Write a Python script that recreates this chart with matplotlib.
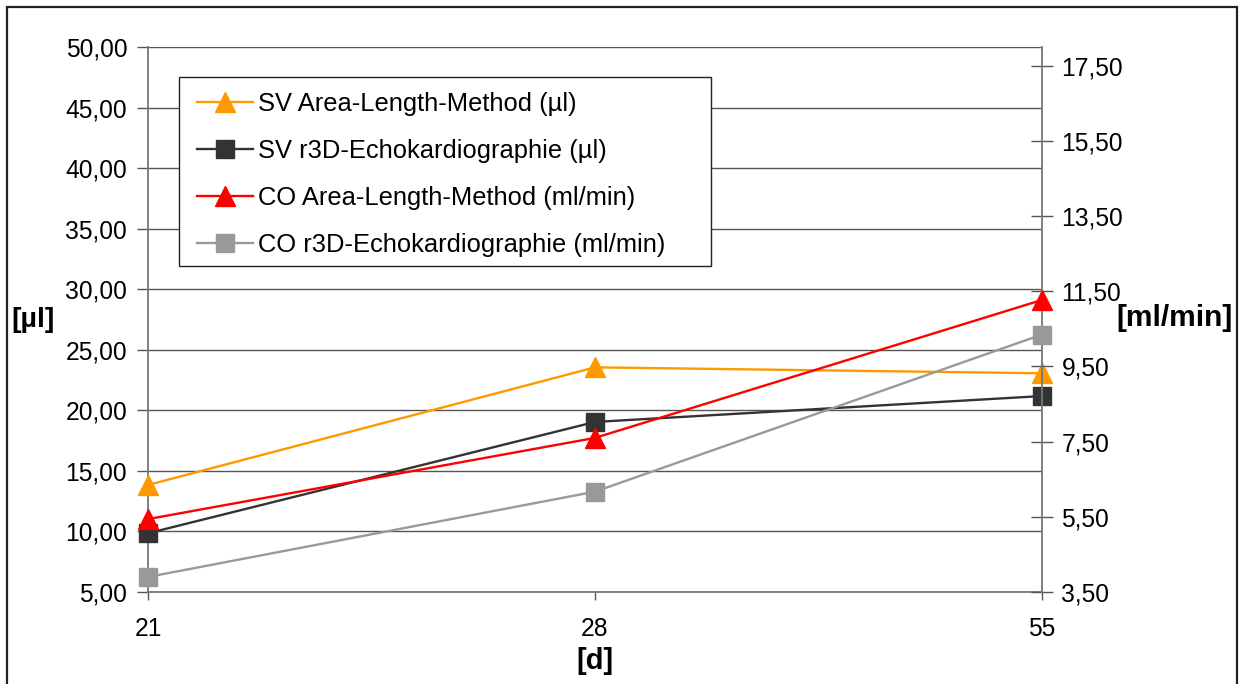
import matplotlib
matplotlib.use("Agg")
import matplotlib.pyplot as plt
from matplotlib.ticker import FuncFormatter, FixedLocator
from matplotlib.patches import Rectangle

plt.rcParams['font.family'] = ['Liberation Sans', 'DejaVu Sans']

# ---- data ----
days = ["21", "28", "55"]
sv_alm = [13.84, 23.55, 23.06]      # µl, left axis
sv_r3d = [9.85, 19.04, 21.18]       # µl, left axis
co_alm = [5.44, 7.60, 11.27]        # ml/min, right axis
co_r3d = [3.90, 6.17, 10.35]        # ml/min, right axis
left_ticks = [5, 10, 15, 20, 25, 30, 35, 40, 45, 50]
right_ticks = [3.5, 5.5, 7.5, 9.5, 11.5, 13.5, 15.5, 17.5]
labels = ["SV Area-Length-Method (µl)",
          "SV r3D-Echokardiographie (µl)",
          "CO Area-Length-Method (ml/min)",
          "CO r3D-Echokardiographie (ml/min)"]

W, H = 1241, 684
fig = plt.figure(figsize=(W / 100, H / 100), dpi=100)
fig.patch.set_facecolor("white")

# outer frame
fig.patches.append(Rectangle((7 / W, -0.05), (1237 - 7) / W, (H - 7) / H + 0.05,
                             transform=fig.transFigure, fill=False,
                             edgecolor="#222222", linewidth=1.6, zorder=0))

L, R, T, B = 148, 1042, 47, 592
ax = fig.add_axes([L / W, (H - B) / H, (R - L) / W, (B - T) / H])
x = list(range(len(days)))

comma = FuncFormatter(lambda v, p: f"{v:.2f}".replace(".", ","))

ax.set_xlim(0, len(days) - 1)
ax.set_ylim(5, 50)
ax.yaxis.set_major_locator(FixedLocator(left_ticks))
ax.yaxis.set_major_formatter(comma)
ax.set_xticks(x)
ax.set_xticklabels(days)
ax.grid(axis="y", color="#555555", linewidth=1.0)
ax.set_axisbelow(True)
for s in ["top", "right"]:
    ax.spines[s].set_visible(False)
for s in ["left", "bottom"]:
    ax.spines[s].set_color("#777777")
    ax.spines[s].set_linewidth(1.3)
ax.tick_params(axis="y", direction="out", length=8, width=1, color="#555555",
               labelsize=17.7, pad=7)
ax.tick_params(axis="x", direction="out", length=6, width=1, color="#555555",
               labelsize=17.7, pad=12)

ms_tri, ms_sq = 14.4, 13
l1, = ax.plot(x, sv_alm, color="#FF9900", lw=1.7, marker="^", ms=ms_tri,
              mec="#FF9900", label=labels[0], clip_on=False, zorder=3)
l2, = ax.plot(x, sv_r3d, color="#333333", lw=1.7, marker="s", ms=ms_sq,
              mec="#333333", label=labels[1], clip_on=False, zorder=3)

ax2 = ax.twinx()
ax2.set_ylim(3.5, 18.0)
ax2.yaxis.set_major_locator(FixedLocator(right_ticks))
ax2.yaxis.set_major_formatter(comma)
for s in ["top", "left", "bottom"]:
    ax2.spines[s].set_visible(False)
ax2.spines["right"].set_color("#777777")
ax2.spines["right"].set_linewidth(1.3)
ax2.tick_params(axis="y", direction="inout", length=16, width=1, color="#555555",
                labelsize=17.7, pad=6)

l3, = ax2.plot(x, co_alm, color="#FF0000", lw=1.7, marker="^", ms=ms_tri,
               mec="#FF0000", label=labels[2], clip_on=False, zorder=3)
l4, = ax2.plot(x, co_r3d, color="#999999", lw=1.7, marker="s", ms=ms_sq,
               mec="#999999", label=labels[3], clip_on=False, zorder=3)

# legend frame drawn separately for exact padding
ax2.add_patch(Rectangle((179 / W, 1 - 266 / H), (711 - 179) / W, (266 - 77) / H,
                        transform=fig.transFigure, facecolor="white",
                        edgecolor="#222222", linewidth=1.0, zorder=5))
leg = ax2.legend(handles=[l1, l2, l3, l4], labels=labels,
                 loc="upper left", bbox_to_anchor=(197 / W, 1 - 92 / H),
                 bbox_transform=fig.transFigure, fontsize=18.4,
                 frameon=False, borderpad=0, labelspacing=0.90,
                 handlelength=2.2, handletextpad=0.2, borderaxespad=0)
leg.set_zorder(6)

fig.text(33 / W, 1 - 320 / H, "[µl]", fontsize=20.5, fontweight="bold",
         ha="center", va="center")
fig.text(1175 / W, 1 - 318 / H, "[ml/min]", fontsize=21.5, fontweight="bold",
         ha="center", va="center")
fig.text(595 / W, 1 - 661 / H, "[d]", fontsize=21, fontweight="bold",
         ha="center", va="center")

fig.savefig("out.png", dpi=100)
